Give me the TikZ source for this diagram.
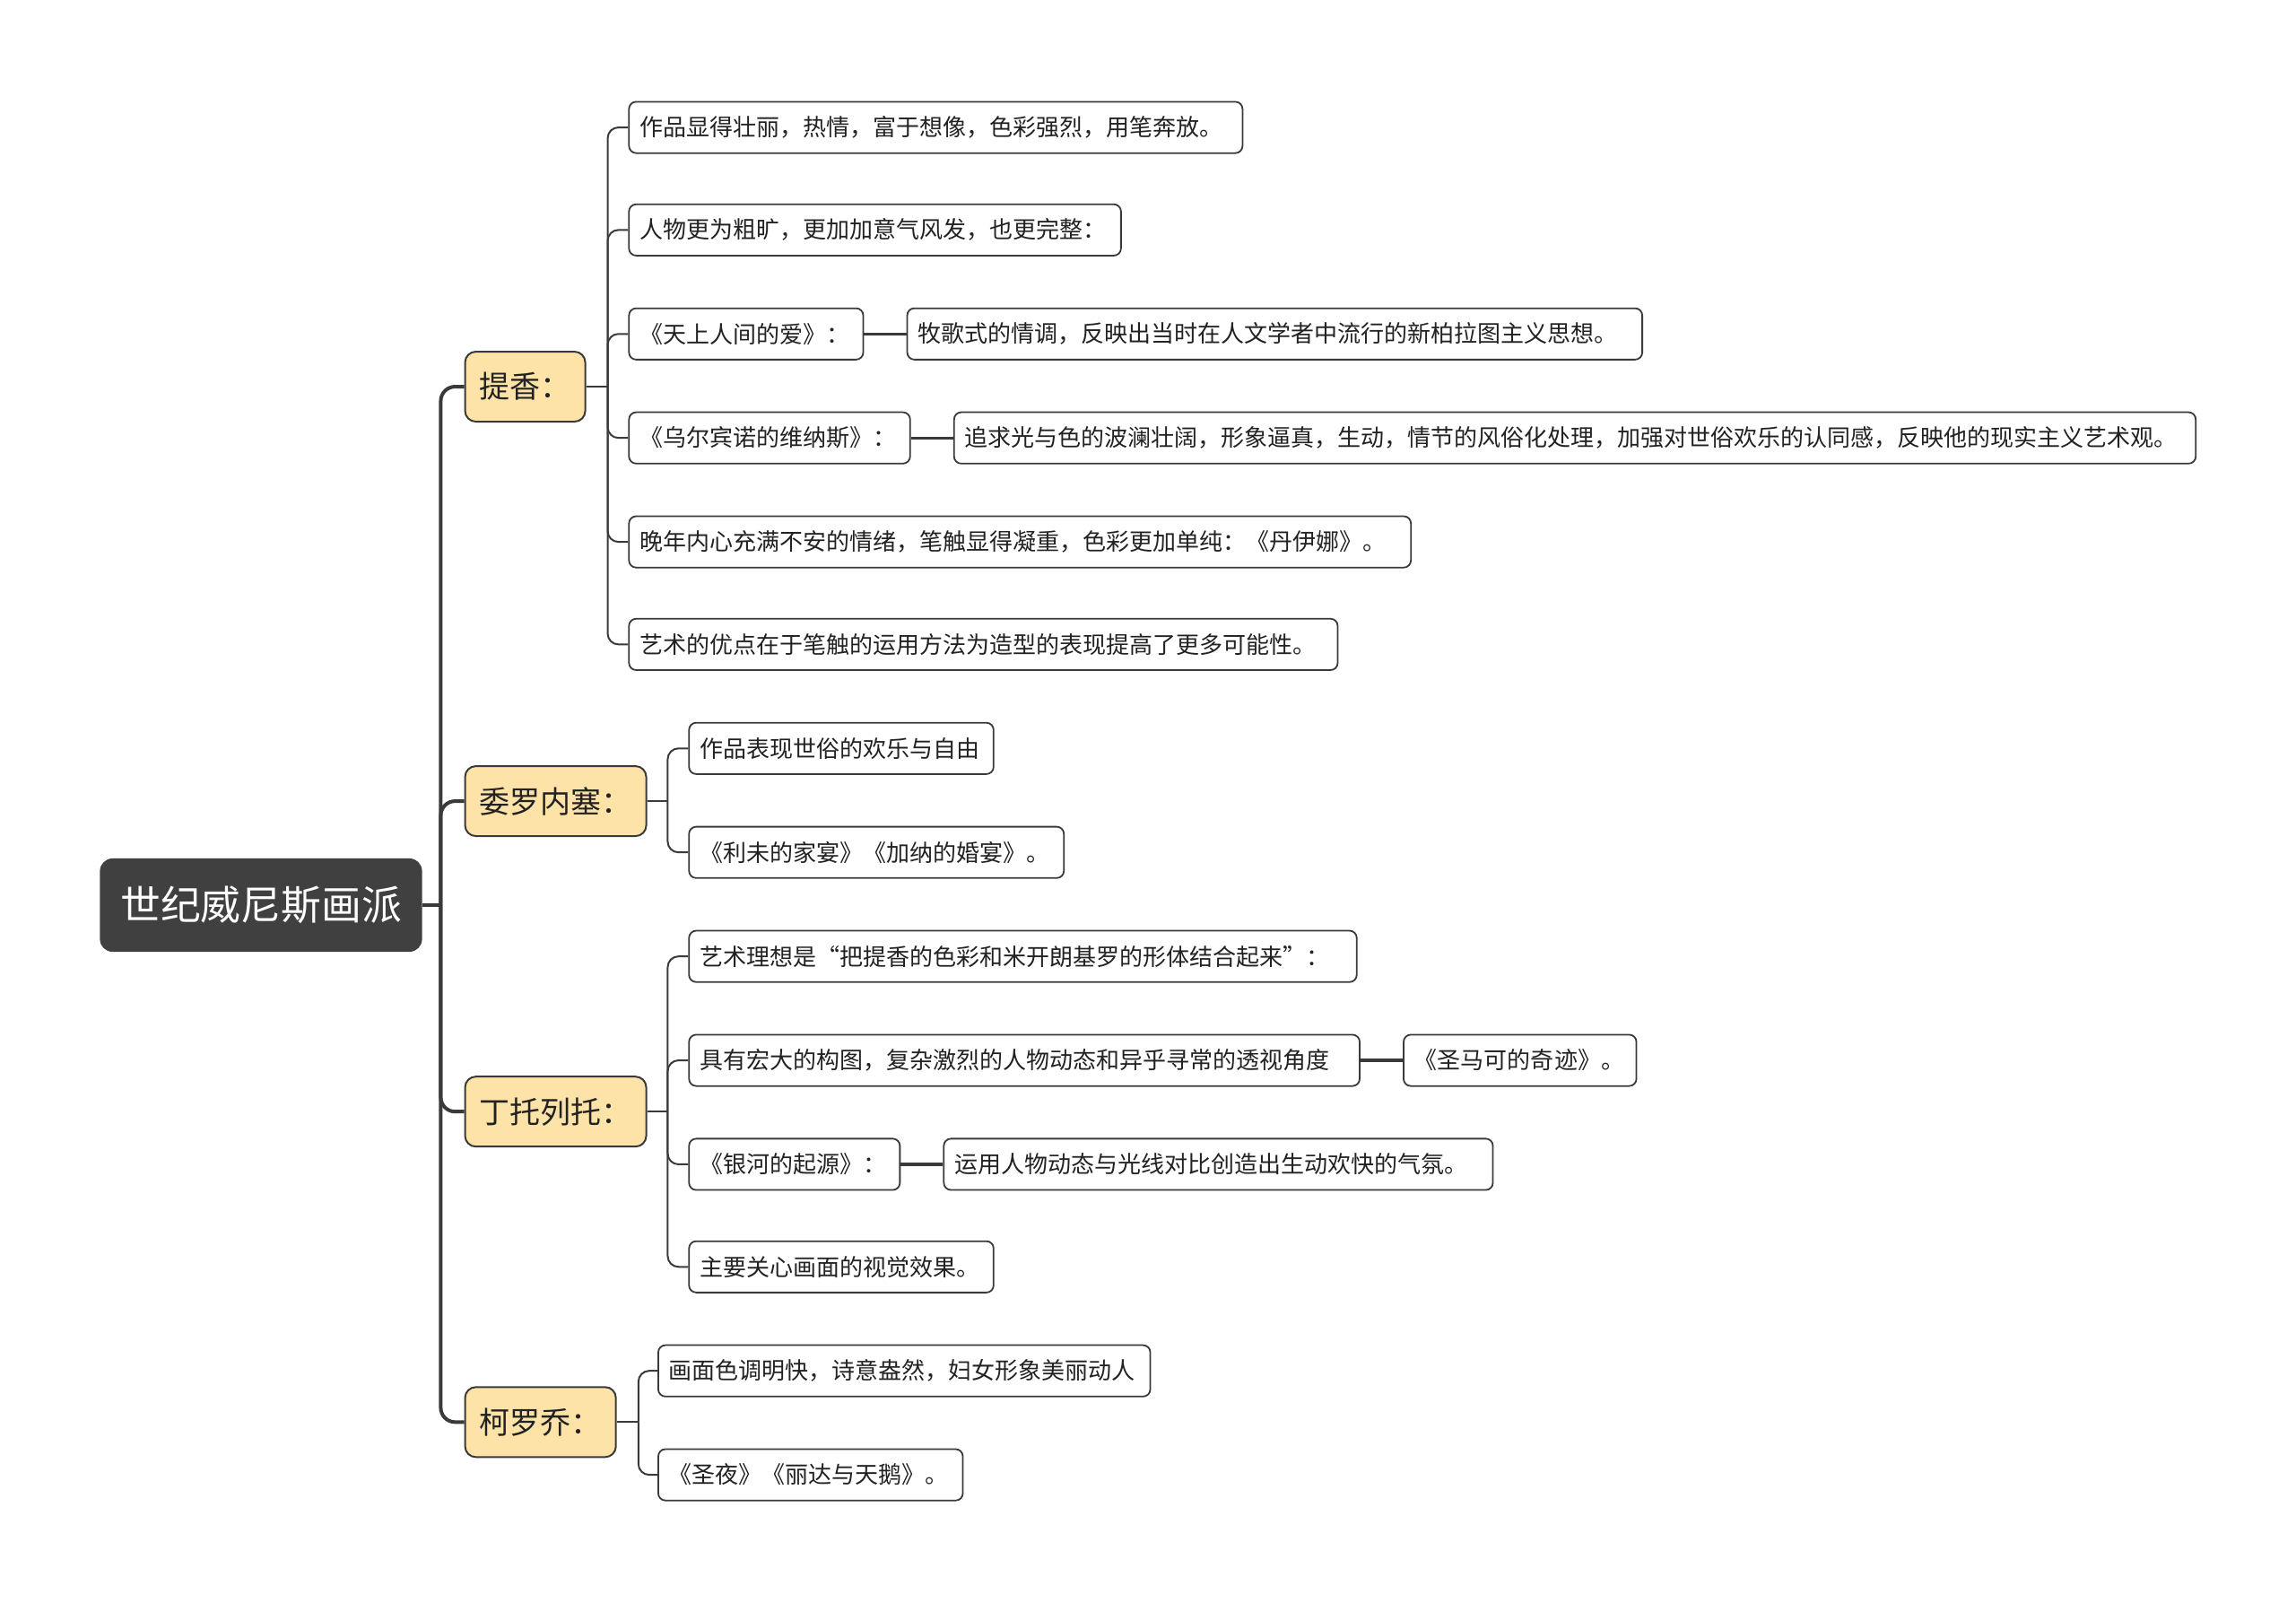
\documentclass[tikz,border=0pt]{standalone}
\usepackage{fontspec}
\setmainfont{Noto Sans CJK SC}
\definecolor{lc}{HTML}{3A3A3A}
\definecolor{bfill}{HTML}{FDE3A7}
\definecolor{rootc}{HTML}{404040}
\definecolor{tc}{HTML}{222222}
\begin{document}
\begin{tikzpicture}[x=0.8163pt,y=-0.8163pt,
  w/.style={minimum width=#1*0.8163pt},
  lw/.style={text width=#1*0.8163pt-12pt},
  leaf/.style={draw=lc, line width=0.9pt, rounded corners=4pt, fill=white, anchor=west,
    minimum height=28.6pt, inner xsep=6pt, inner ysep=0pt, text=tc, align=left,
    font=\fontsize{13}{15}\selectfont},
  branch/.style={draw=lc, line width=1pt, rounded corners=6pt, fill=bfill, anchor=west,
    minimum height=39pt, inner xsep=8pt, inner ysep=0pt, text=tc,
    font=\fontsize{17}{20}\selectfont},
  rootn/.style={fill=rootc, rounded corners=7pt, anchor=west, minimum height=52pt,
    inner xsep=10pt, inner ysep=0pt, text=white, font=\fontsize{22.4}{26}\selectfont},
  trunk/.style={draw=lc, line width=2pt, rounded corners=8pt},
  twig/.style={draw=lc, line width=1pt, rounded corners=6pt},
  link/.style={draw=lc, line width=1.6pt}
]
\useasboundingbox (0,0) rectangle (1568,1094);

% root and branches
\node[rootn, w=220] (root) at (68,618) {世纪威尼斯画派};
\node[branch, w=82]  (b1) at (317,264) {提香：};
\node[branch, w=123] (b2) at (317,547) {委罗内塞：};
\node[branch, w=123] (b3) at (317,759) {丁托列托：};
\node[branch, w=103] (b4) at (317,971) {柯罗乔：};

% 提香 leaves
\node[leaf, lw=419] (t1) at (429,87) {作品显得壮丽，热情，富于想像，色彩强烈，用笔奔放。};
\node[leaf, lw=336] (t2) at (429,157) {人物更为粗旷，更加加意气风发，也更完整：};
\node[leaf, lw=160] (t3) at (429,228) {《天上人间的爱》：};
\node[leaf, lw=502] (t3a) at (619,228) {牧歌式的情调，反映出当时在人文学者中流行的新柏拉图主义思想。};
\node[leaf, lw=192] (t4) at (429,299) {《乌尔宾诺的维纳斯》：};
\node[leaf, lw=848] (t4a) at (651,299) {追求光与色的波澜壮阔，形象逼真，生动，情节的风俗化处理，加强对世俗欢乐的认同感，反映他的现实主义艺术观。};
\node[leaf, lw=534] (t5) at (429,370) {晚年内心充满不安的情绪，笔触显得凝重，色彩更加单纯：《丹伊娜》。};
\node[leaf, lw=484] (t6) at (429,440) {艺术的优点在于笔触的运用方法为造型的表现提高了更多可能性。};

% 委罗内塞 leaves
\node[leaf, lw=208] (v1) at (470,511) {作品表现世俗的欢乐与自由};
\node[leaf, lw=256] (v2) at (470,582) {《利未的家宴》《加纳的婚宴》。};

% 丁托列托 leaves
\node[leaf, lw=456] (d1) at (470,653) {艺术理想是“把提香的色彩和米开朗基罗的形体结合起来”：};
\node[leaf, lw=458] (d2) at (470,724) {具有宏大的构图，复杂激烈的人物动态和异乎寻常的透视角度};
\node[leaf, lw=159] (d2a) at (958,724) {《圣马可的奇迹》。};
\node[leaf, lw=144] (d3) at (470,795) {《银河的起源》：};
\node[leaf, lw=375] (d3a) at (644,795) {运用人物动态与光线对比创造出生动欢快的气氛。};
\node[leaf, lw=208] (d4) at (470,865) {主要关心画面的视觉效果。};

% 柯罗乔 leaves
\node[leaf, lw=336] (k1) at (449,936) {画面色调明快，诗意盎然，妇女形象美丽动人};
\node[leaf, lw=208] (k2) at (449,1007) {《圣夜》《丽达与天鹅》。};

% junctions
\coordinate (j0) at (301,618);
\coordinate (j1) at (415,264);
\coordinate (j2) at (456,547);
\coordinate (j3) at (456,759);
\coordinate (j4) at (436,971);

% connectors
\draw[trunk] (root.east) -- (j0);
\foreach \b in {b1,b2,b3,b4} \draw[trunk] (j0) |- (\b.west);

\draw[twig] (b1.east) -- (j1);
\foreach \c in {t1,t2,t3,t4,t5,t6} \draw[twig] (j1) |- (\c.west);
\draw[twig] (b2.east) -- (j2);
\foreach \c in {v1,v2} \draw[twig] (j2) |- (\c.west);
\draw[twig] (b3.east) -- (j3);
\foreach \c in {d1,d2,d3,d4} \draw[twig] (j3) |- (\c.west);
\draw[twig] (b4.east) -- (j4);
\foreach \c in {k1,k2} \draw[twig] (j4) |- (\c.west);

\draw[link] (t3.east) -- (t3a.west);
\draw[link] (t4.east) -- (t4a.west);
\draw[link] (d2.east) -- (d2a.west);
\draw[link] (d3.east) -- (d3a.west);
\end{tikzpicture}
\end{document}
